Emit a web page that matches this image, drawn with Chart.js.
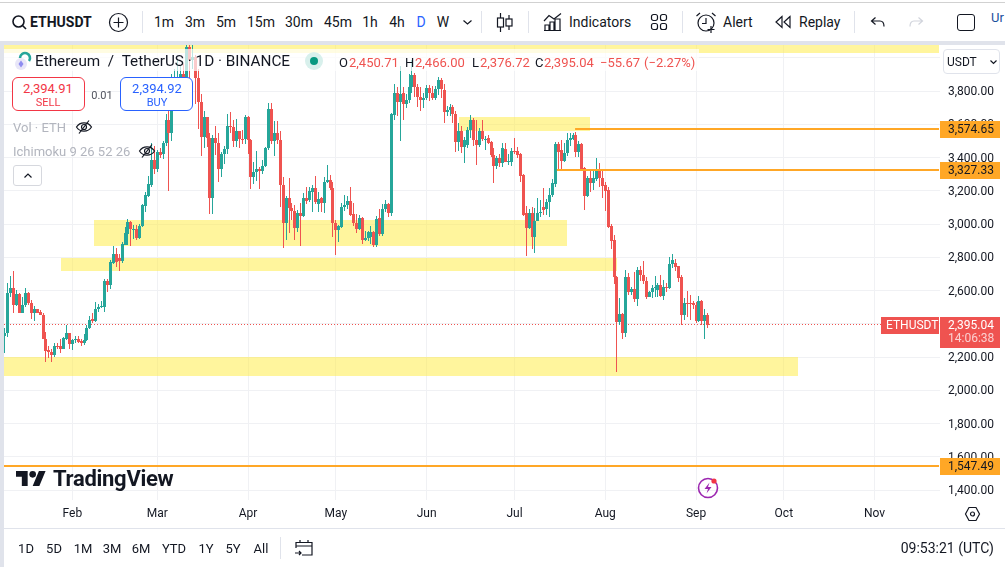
<!DOCTYPE html>
<html>
<head>
<meta charset="utf-8">
<title>ETHUSDT</title>
<script src="https://cdn.jsdelivr.net/npm/chart.js@4"></script>
<style>
    html, body { margin: 0; padding: 0; background: #fff; overflow: hidden; }
    #wrap { position: relative; width: 1005px; height: 567px; font-family: Roboto, sans-serif; color: #131722; font-size: 14px; overflow: hidden; }
    #chart { position: absolute; left: 0; top: 0; }
    .c, .l { position: absolute; white-space: nowrap; line-height: 1; }
    .c { transform: translate(-50%, -50%); }
    .l { transform: translateY(-50%); }
    .box { position: absolute; box-sizing: border-box; }
    svg { position: absolute; overflow: visible; fill: none; stroke: #131722; stroke-width: 1.2; }
    .red { color: #ef5350; }
    .gray { color: #b2b5be; font-size: 13px; }
</style>
</head>
<body>
<div id="wrap">
    <canvas id="chart" width="1005" height="567"></canvas>

    <!-- top toolbar -->
    <div class="box" style="left:0;top:0;width:1005px;height:41px;background:#fff"></div>
    <div class="box" style="left:0;top:2px;width:1005px;height:1px;background:#d1d1d1"></div>
    <div class="box" style="left:0;top:41px;width:1005px;height:4px;background:#e0e3eb"></div>
    <div class="box" style="left:0;top:41px;width:4px;height:526px;background:#e0e3eb"></div>
    <svg style="left:12px;top:15px" width="15" height="15" stroke-width="1.6"><circle cx="6.5" cy="6.5" r="5.5" style="stroke-width:1.6"/><path d="M10.5 10.5L14 14" style="stroke-width:1.6"/></svg>
    <span class="l" style="left:30px;top:22px;font-weight:700;font-size:14px">ETHUSDT</span>
    <svg style="left:109px;top:13px" width="19" height="19"><circle cx="9.5" cy="9.5" r="9"/><path d="M9.5 4.5v10M4.5 9.5h10"/></svg>
    <div class="box" style="left:142px;top:11px;width:1px;height:22px;background:#e0e3eb"></div>
    <span class="c" style="left:164px;top:22px">1m</span>
    <span class="c" style="left:195px;top:22px">3m</span>
    <span class="c" style="left:226px;top:22px">5m</span>
    <span class="c" style="left:261px;top:22px">15m</span>
    <span class="c" style="left:299px;top:22px">30m</span>
    <span class="c" style="left:338px;top:22px">45m</span>
    <span class="c" style="left:370px;top:22px">1h</span>
    <span class="c" style="left:397px;top:22px">4h</span>
    <span class="c" style="left:421px;top:22px;color:#2962ff">D</span>
    <span class="c" style="left:443px;top:22px">W</span>
    <svg style="left:463px;top:20px" width="9" height="5"><path d="M0.5 0.5L4.5 4L8.5 0.5"/></svg>
    <div class="box" style="left:481px;top:11px;width:1px;height:22px;background:#e0e3eb"></div>
    <svg style="left:497px;top:13px" width="16" height="19"><path d="M3.5 0v5M3.5 14v5M12 2v4M12 13v4"/><rect x="0.5" y="5" width="6" height="9"/><rect x="9" y="6" width="6" height="7"/></svg>
    <div class="box" style="left:528px;top:11px;width:1px;height:22px;background:#e0e3eb"></div>
    <svg style="left:544px;top:13px" width="18" height="18"><path d="M0 8L5 2.5L10 6L17 0.5"/><path d="M1 17V12h4v5M6 17V9h4v8M11 17V6h5v11M0 17.5h17"/></svg>
    <span class="l" style="left:569px;top:22px">Indicators</span>
    <svg style="left:651px;top:14px" width="16" height="16"><rect x="0.5" y="0.5" width="6" height="6" rx="2"/><rect x="9.5" y="0.5" width="6" height="6" rx="2"/><rect x="0.5" y="9.5" width="6" height="6" rx="2"/><rect x="9.5" y="9.5" width="6" height="6" rx="2"/></svg>
    <div class="box" style="left:682px;top:11px;width:1px;height:22px;background:#e0e3eb"></div>
    <svg style="left:696px;top:12px" width="21" height="21"><circle cx="10" cy="11" r="8"/><path d="M10 6v5.5H6M0.5 4L4 1M19.5 4L16 1M15 14v7M11.5 17.5h7"/></svg>
    <span class="l" style="left:723px;top:22px">Alert</span>
    <svg style="left:775px;top:16px" width="16" height="12"><path d="M7 0.5L1 6L7 11.5ZM15 0.5L9 6L15 11.5Z"/></svg>
    <span class="l" style="left:799px;top:22px">Replay</span>
    <div class="box" style="left:854px;top:11px;width:1px;height:22px;background:#e0e3eb"></div>
    <svg style="left:871px;top:17px" width="14" height="10"><path d="M4.5 0.5L0.5 4L4.5 7.5M0.5 4H9C11.5 4 13 6 13 9.5"/></svg>
    <svg style="left:909px;top:17px;stroke:#d1d4dc" width="14" height="10"><path d="M9.5 0.5L13.5 4L9.5 7.5M13.5 4H5C2.5 4 1 6 1 9.5"/></svg>
    <div class="box" style="left:957px;top:14px;width:18px;height:17px;border:1.3px solid #131722;border-radius:3px"></div>
    <span class="l" style="left:991px;top:17px;color:#1a4f9c;font-size:13px">Ur</span>

    <!-- symbol legend -->
    <div class="box" style="left:4px;top:49px;width:695px;height:22px;background:rgba(255,255,255,.7)"></div>
    <svg style="left:13px;top:52px;stroke:none" width="20" height="19"><circle cx="8" cy="12" r="6" fill="#e8e6f8"/><path d="M8 8.5L10.5 12L8 15.5L5.5 12Z" fill="#8e8cf0"/><path d="M7 6A5 5 0 1 1 16 9" stroke="#26a69a" stroke-width="2.6" style="stroke:#26a69a"/></svg>
    <span class="l" style="left:35px;top:62px;font-size:15.3px">Ethereum&nbsp; / &nbsp;TetherUS · 1D · BINANCE</span>
    <svg style="left:305px;top:52px;stroke:none" width="18" height="18"><circle cx="9" cy="9" r="9" fill="#d8f0ec"/><circle cx="9" cy="9" r="4" fill="#089981"/></svg>
    <span class="l" style="left:339px;top:62px;font-size:13px">O</span>
    <span class="l red" style="left:349px;top:62px;font-size:13px">2,450.71</span>
    <span class="l" style="left:405px;top:62px;font-size:13px">H</span>
    <span class="l red" style="left:415px;top:62px;font-size:13px">2,466.00</span>
    <span class="l" style="left:472px;top:62px;font-size:13px">L</span>
    <span class="l red" style="left:480px;top:62px;font-size:13px">2,376.72</span>
    <span class="l" style="left:535px;top:62px;font-size:13px">C</span>
    <span class="l red" style="left:544px;top:62px;font-size:13px">2,395.04</span>
    <span class="l red" style="left:600px;top:62px;font-size:13px">−55.67</span>
    <span class="l red" style="left:644px;top:62px;font-size:13px">(−2.27%)</span>

    <!-- sell / buy -->
    <div class="box" style="left:12px;top:77px;width:73px;height:34px;background:#fff;border:1px solid #f23645;border-radius:6px"></div>
    <span class="c" style="left:48px;top:88px;color:#f23645;font-size:13px">2,394.91</span>
    <span class="c" style="left:48px;top:102px;color:#f23645;font-size:11px">SELL</span>
    <span class="c" style="left:102px;top:95px;font-size:11px;color:#50535e">0.01</span>
    <div class="box" style="left:120px;top:77px;width:73px;height:34px;background:#fff;border:1px solid #2962ff;border-radius:6px"></div>
    <span class="c" style="left:157px;top:88px;color:#2962ff;font-size:13px">2,394.92</span>
    <span class="c" style="left:157px;top:102px;color:#2962ff;font-size:11px">BUY</span>

    <!-- indicators -->
    <span class="l gray" style="left:13px;top:127px">Vol · ETH</span>
    <svg style="left:76px;top:120px" width="16" height="14"><path d="M0.5 7C4 1.5 12 1.5 15.5 7C12 12.5 4 12.5 0.5 7Z"/><circle cx="8" cy="7" r="2.5"/><path d="M13 0.5L3 13.5"/></svg>
    <span class="l gray" style="left:13px;top:151px">Ichimoku 9 26 52 26</span>
    <svg style="left:139px;top:144px" width="16" height="14"><path d="M0.5 7C4 1.5 12 1.5 15.5 7C12 12.5 4 12.5 0.5 7Z"/><circle cx="8" cy="7" r="2.5"/><path d="M13 0.5L3 13.5"/></svg>
    <div class="box" style="left:13px;top:165px;width:29px;height:21px;background:#fff;border:1px solid #d6d8de;border-radius:3px"></div>
    <svg style="left:24px;top:173px" width="8" height="5"><path d="M0.5 4.5L4 1L7.5 4.5"/></svg>

    <!-- currency box -->
    <div class="box" style="left:943px;top:49px;width:57px;height:25px;background:#fff;border:1px solid #e0e3eb;border-radius:4px"></div>
    <span class="l" style="left:947px;top:62px;font-size:12px">USDT</span>
    <svg style="left:990px;top:60px" width="7" height="4"><path d="M0.5 0.5L3.5 3.5L6.5 0.5"/></svg>

    <!-- logo -->
    <svg style="left:16px;top:471px;stroke:none" width="30" height="15" viewBox="0 4 36 18"><path d="M14 22H7V11H0V4h14v18zM28 22h-8l7.5-18h8L28 22z" fill="#131722"/><circle cx="20" cy="8" r="4" fill="#131722"/></svg>
    <span class="l" style="left:53px;top:479px;font-size:22px;font-weight:700;letter-spacing:-.3px">TradingView</span>
    <svg style="left:697px;top:477px;stroke:#9c27b0" width="22" height="22"><circle cx="11" cy="11" r="9.5" style="stroke:#9c27b0;stroke-width:1.6"/><path d="M12.5 5.5L7.5 12h3.5L9.5 16.5L14.5 10H11Z" fill="#9c27b0" style="stroke:none"/><circle cx="17" cy="4" r="2.6" fill="#f23645" style="stroke:none"/></svg>
    <svg style="left:965px;top:507px" width="15" height="14"><path d="M4 0.5h7L14.5 7L11 13.5H4L0.5 7Z"/><circle cx="7.5" cy="7" r="2"/></svg>

    <!-- bottom bar -->
    <div class="box" style="left:4px;top:528px;width:1001px;height:1px;background:#e0e3eb"></div>
    <span class="c" style="left:26px;top:548px;font-size:13px">1D</span>
    <span class="c" style="left:54px;top:548px;font-size:13px">5D</span>
    <span class="c" style="left:83px;top:548px;font-size:13px">1M</span>
    <span class="c" style="left:112px;top:548px;font-size:13px">3M</span>
    <span class="c" style="left:141px;top:548px;font-size:13px">6M</span>
    <span class="c" style="left:174px;top:548px;font-size:13px">YTD</span>
    <span class="c" style="left:206px;top:548px;font-size:13px">1Y</span>
    <span class="c" style="left:233px;top:548px;font-size:13px">5Y</span>
    <span class="c" style="left:261px;top:548px;font-size:13px">All</span>
    <div class="box" style="left:280px;top:537px;width:1px;height:22px;background:#e0e3eb"></div>
    <svg style="left:295px;top:539px" width="18" height="18"><path d="M1 9V3.5h16V16H7M1 7h16M5 1v3M13 1v3M0 14h6M4 12l2 2l-2 2"/></svg>
    <span class="l" style="right:11px;top:548px;font-size:14px">09:53:21 (UTC)</span>
</div>

<script>
// daily candles, 9 Jan to 5 Sep
const opens = [
    2326,2342,2583,2613,2513,2579,2467,2513,2583,2527,2467,2487,2469,2455,2310,2240,2232,2214,2266,2266,2250,2310,2342,
    2278,2302,2310,2298,2286,2302,2372,2426,2414,2486,2500,2503,2659,2633,2765,2819,2798,2777,2874,2940,3012,2968,2968,2914,2988,3110,3168,3235,3385,
    3328,3435,3420,3485,3625,3549,3820,3865,3880,3905,3880,4065,3985,4005,3880,3736,3521,3641,3515,3157,3515,3490,3330,3420,3450,3590,3585,3500,3560,3510,3510,
    3645,3505,3280,3310,3330,3320,3350,3455,3690,3500,3545,3505,3235,3004,3154,3094,3080,2974,3064,3050,3154,3144,3195,3214,3120,3154,3128,3254,3264,3214,
    3008,2964,2984,3100,3114,3140,3060,3004,2968,3034,2904,2916,2924,2954,2874,3034,2940,3090,3120,3068,3655,3790,3735,3786,3722,3745,3822,3896,3822,3762,3745,
    3756,3816,3786,3756,3810,3866,3806,3675,3686,3704,3662,3495,3559,3465,3475,3565,3625,3505,3475,3559,3510,3519,3491,3415,3351,3395,3365,3451,3375,3375,
    3439,3439,3419,3295,3064,2978,3064,2924,3020,3064,3100,3090,3130,3174,3240,3481,3445,3379,3425,3505,3510,3535,3435,3481,3335,3168,3275,3245,3270,3320,3275,
    3235,3205,2988,2904,2683,2413,2459,2342,2683,2593,2607,2549,2723,2693,2659,2563,2589,2613,2603,2633,2569,2623,2617,2760,2768,2747,2683,2453,2527,2527,2527,
    2513,2417,2537,2417,2450.71
];
const highs = [
    2372,2643,2687,2717,2603,2585,2560,2613,2590,2545,2505,2490,2482,2462,2350,2265,2246,2282,2282,2306,2318,2390,2346,
    2306,2326,2326,2306,2338,2392,2446,2462,2533,2518,2534,2668,2668,2783,2867,2853,2820,2894,2984,3028,3020,2994,2994,3000,3120,3190,3290,3490,3470,
    3445,3455,3500,3660,3820,3900,3935,3995,3955,3960,4085,4093,4085,4015,3935,3780,3680,3645,3545,3535,3590,3545,3435,3470,3660,3675,3625,3630,3560,3565,3655,
    3650,3510,3370,3440,3345,3385,3465,3730,3730,3620,3620,3560,3280,3170,3275,3125,3115,3085,3125,3185,3224,3225,3235,3290,3195,3165,3285,3353,3295,3255,
    3025,2995,3125,3175,3170,3224,3125,3060,3055,3040,2960,2955,2985,2960,3050,3090,3120,3145,3125,3665,3845,3822,3950,3825,3780,3900,3986,3910,3845,3825,3790,
    3835,3835,3830,3830,3885,3880,3840,3710,3720,3715,3680,3605,3590,3525,3585,3655,3635,3625,3580,3625,3530,3535,3500,3455,3410,3420,3485,3485,3420,3455,
    3520,3465,3430,3300,3110,3090,3105,3095,3155,3145,3215,3150,3215,3270,3495,3495,3505,3485,3545,3545,3550,3555,3500,3490,3345,3290,3330,3325,3395,3365,3325,
    3250,3220,3000,2935,2690,2553,2465,2724,2704,2620,2713,2740,2745,2775,2680,2600,2633,2687,2645,2693,2664,2644,2800,2820,2790,2750,2695,2553,2597,2570,2538,
    2530,2567,2545,2489,2466
];
const lows = [
    2226,2320,2560,2463,2507,2467,2467,2499,2510,2427,2419,2462,2450,2306,2172,2192,2172,2198,2250,2222,2246,2302,2246,
    2242,2282,2286,2266,2270,2296,2368,2405,2410,2470,2492,2470,2592,2612,2762,2740,2720,2764,2872,2873,2868,2910,2904,2910,2980,3075,3160,3220,3300,
    3310,3400,3390,3470,3198,3500,3785,3830,3860,3830,3720,3830,3935,3720,3570,3410,3460,3465,3060,3058,3415,3250,3285,3360,3420,3545,3465,3465,3455,3480,3480,
    3420,3210,3240,3260,3210,3300,3340,3445,3480,3410,3480,3100,2853,2904,2944,3024,2904,2954,2868,3040,3120,3134,3074,3120,3074,3074,3064,3245,3205,2924,
    2813,2890,2975,3080,3090,3048,2985,2944,2965,2880,2895,2900,2880,2860,2860,2925,2925,3075,3045,3050,3625,3650,3501,3625,3695,3730,3785,3765,3705,3680,3700,
    3745,3740,3745,3745,3775,3760,3605,3650,3650,3605,3435,3440,3425,3365,3460,3520,3470,3355,3465,3500,3445,3480,3405,3245,3330,3340,3340,3370,3355,3350,
    3420,3395,3255,3050,2810,2970,2850,2824,3020,3040,3055,3055,3045,3160,3225,3325,3325,3375,3410,3470,3505,3405,3405,3325,3084,3160,3195,3205,3260,3225,3155,
    3080,2975,2850,2640,2112,2395,2310,2323,2570,2573,2530,2508,2660,2640,2550,2560,2555,2563,2560,2560,2542,2590,2610,2735,2720,2650,2392,2422,2443,2425,2487,
    2403,2412,2395,2308,2376.72
];
const closes = [
    2342,2583,2613,2513,2579,2467,2513,2583,2527,2467,2487,2467,2455,2310,2236,2232,2214,2266,2258,2250,2314,2342,2278,
    2302,2308,2292,2286,2302,2372,2422,2414,2486,2502,2508,2659,2633,2771,2819,2773,2777,2880,2944,3012,2968,2970,2914,2990,3115,3175,3240,3385,3330,
    3435,3415,3485,3625,3549,3820,3865,3880,3905,3880,4065,3985,4005,3880,3736,3521,3641,3515,3157,3515,3490,3330,3420,3450,3590,3585,3500,3560,3510,3505,3641,
    3505,3280,3310,3330,3320,3350,3455,3690,3500,3545,3505,3235,3004,3154,3094,3080,2974,3064,3050,3154,3140,3200,3214,3134,3148,3128,3254,3264,3214,3008,
    2964,2985,3100,3114,3140,3054,3004,2968,3034,2904,2916,2950,2954,2874,3030,2940,3090,3120,3068,3661,3790,3735,3780,3722,3745,3822,3896,3822,3762,3745,3760,
    3816,3786,3756,3810,3866,3810,3675,3686,3705,3662,3495,3559,3465,3505,3565,3625,3505,3475,3559,3510,3514,3485,3415,3351,3395,3365,3455,3375,3378,3439,
    3435,3415,3289,3054,2978,3064,2924,3020,3064,3075,3085,3130,3174,3245,3481,3435,3379,3425,3505,3520,3535,3435,3481,3328,3168,3275,3245,3275,3320,3275,3228,
    3200,2984,2900,2683,2413,2459,2342,2683,2593,2607,2549,2723,2693,2659,2563,2589,2613,2623,2633,2569,2623,2617,2760,2783,2740,2677,2453,2523,2523,2521,2513,
    2417,2537,2417,2453,2395.04
];

// axes
const priceTicks = [1400,1600,1800,2000,2200,2400,2600,2800,3000,3200,3400,3600,3800,4000];
const monthDays = [23,52,83,113,144,174,205,236,266,297];
const monthNames = ['Feb','Mar','Apr','May','Jun','Jul','Aug','Sep','Oct','Nov'];

// yellow boxes (x in days from the first candle)
const zoneStart = [-0.34,30.4,19.1,-0.34,155];
const zoneEnd = [319,191.9,209,270.8,199.8];
const zoneLow = [4028.6,2869.5,2719,2087.5,3559.4];
const zoneHigh = [4100,3024,2797.3,2200,3643.6];

// orange horizontal lines
const levelPrices = [3574.65,3327.33,1547.49];
const levelStart = [194.7,188.5,-0.34];
const levelEnd = 319;

const lastPriceEnd = 299.7;
const countdown = '14:06:38';
const symbolTag = 'ETHUSDT';

const GREEN = '#26a69a';
const RED = '#ef5350';
const ORANGE = '#ffa726';
const fmt = v => v.toLocaleString('en-US', { minimumFractionDigits: 2, maximumFractionDigits: 2 });
const candleColor = ctx => closes[ctx.dataIndex] >= opens[ctx.dataIndex] ? GREEN : RED;

Chart.defaults.font.family = 'Roboto, sans-serif';
Chart.defaults.font.size = 12;
Chart.defaults.color = '#131722';

// yellow boxes go under the candles
const zonesPlugin = {
    id: 'zones',
    beforeDatasetsDraw(chart) {
        const { ctx, chartArea: a, scales: { x, y } } = chart;
        ctx.save();
        ctx.beginPath();
        ctx.rect(a.left, a.top, a.width, a.height);
        ctx.clip();
        ctx.fillStyle = 'rgba(255,235,59,0.5)';
        zoneStart.forEach((s, i) => {
            const left = Math.round(x.getPixelForValue(s));
            const right = Math.round(x.getPixelForValue(zoneEnd[i]));
            const top = Math.round(y.getPixelForValue(zoneHigh[i]));
            const bottom = Math.round(y.getPixelForValue(zoneLow[i]));
            ctx.fillRect(left, top, right - left, bottom - top);
        });
        ctx.restore();
    }
};

// snap bars and flat lines to whole pixels so they stay sharp
const snapPlugin = {
    id: 'snap',
    afterDatasetsUpdate(chart) {
        chart.getSortedVisibleDatasetMetas().forEach(meta => {
            if (meta.type === 'bar') {
                meta.data.forEach(el => {
                    el.x = Math.floor(el.x) + 0.5;
                    let top = Math.round(Math.min(el.y, el.base));
                    let bottom = Math.round(Math.max(el.y, el.base));
                    if (bottom === top) bottom = top + 1;
                    el.y = top;
                    el.base = bottom;
                });
            } else {
                const odd = chart.data.datasets[meta.index].borderWidth === 1;
                meta.data.forEach(el => {
                    el.y = odd ? Math.floor(el.y) + 0.5 : Math.ceil(el.y);
                });
            }
        });
    }
};

// price tags on the right axis
const tagsPlugin = {
    id: 'tags',
    afterDraw(chart) {
        const { ctx, scales: { y } } = chart;
        ctx.save();
        ctx.textBaseline = 'middle';
        ctx.font = '12px Roboto, sans-serif';
        levelPrices.forEach(p => {
            const py = Math.ceil(y.getPixelForValue(p));
            ctx.fillStyle = ORANGE;
            ctx.fillRect(940, py - 8, 60, 17);
            ctx.fillStyle = '#131722';
            ctx.fillText(fmt(p), 948, py + 1);
        });
        const last = closes[closes.length - 1];
        const py = Math.round(y.getPixelForValue(last));
        ctx.fillStyle = RED;
        ctx.fillRect(881, py - 8, 58, 17);
        ctx.fillRect(940, py - 8, 60, 31);
        ctx.fillStyle = '#fff';
        ctx.fillText(symbolTag, 886, py + 1);
        ctx.fillText(fmt(last), 948, py + 1);
        ctx.fillStyle = '#fbd0d0';
        ctx.fillText(countdown, 948, py + 14);
        ctx.restore();
    }
};

new Chart(document.getElementById('chart'), {
    data: {
        datasets: [
            // last price line
            {
                type: 'line',
                data: [{ x: -0.34, y: closes[closes.length - 1] }, { x: lastPriceEnd, y: closes[closes.length - 1] }],
                borderColor: RED,
                borderWidth: 1,
                borderDash: [1, 2],
                pointRadius: 0,
                order: 4
            },
            // levels
            ...levelPrices.map((p, i) => ({
                type: 'line',
                data: [{ x: levelStart[i], y: p }, { x: levelEnd, y: p }],
                borderColor: ORANGE,
                borderWidth: 2,
                pointRadius: 0,
                order: 1
            })),
            // wicks
            {
                type: 'bar',
                data: highs.map((h, i) => ({ x: i, y: [lows[i], h] })),
                backgroundColor: candleColor,
                barThickness: 1,
                grouped: false,
                inflateAmount: 0,
                order: 3
            },
            // bodies
            {
                type: 'bar',
                data: opens.map((o, i) => ({ x: i, y: [o, closes[i]] })),
                backgroundColor: candleColor,
                barThickness: 3,
                grouped: false,
                inflateAmount: 0,
                order: 2
            }
        ]
    },
    options: {
        responsive: false,
        animation: false,
        events: [],
        layout: { padding: { left: 4, top: 45, right: 0, bottom: 38 } },
        plugins: { legend: { display: false }, tooltip: { enabled: false } },
        scales: {
            x: {
                type: 'linear',
                offset: false,
                min: -0.34,
                max: 319.33,
                afterBuildTicks: s => { s.ticks = monthDays.map(v => ({ value: v })); },
                afterFit: s => { s.height = 29; },
                grid: { color: '#f0f1f4', drawTicks: false, offset: false },
                border: { display: false },
                ticks: {
                    autoSkip: false,
                    maxRotation: 0,
                    padding: 7,
                    callback: v => monthNames[monthDays.indexOf(v)]
                }
            },
            y: {
                type: 'linear',
                position: 'right',
                min: 1339.9,
                max: 4076.7,
                afterBuildTicks: s => { s.ticks = priceTicks.map(v => ({ value: v })); },
                afterFit: s => { s.width = 65; },
                grid: { color: '#f0f1f4', drawTicks: false },
                border: { display: false },
                ticks: { padding: 8, labelOffset: 1, callback: v => fmt(v) }
            }
        }
    },
    plugins: [zonesPlugin, snapPlugin, tagsPlugin]
});
</script>
</body>
</html>
